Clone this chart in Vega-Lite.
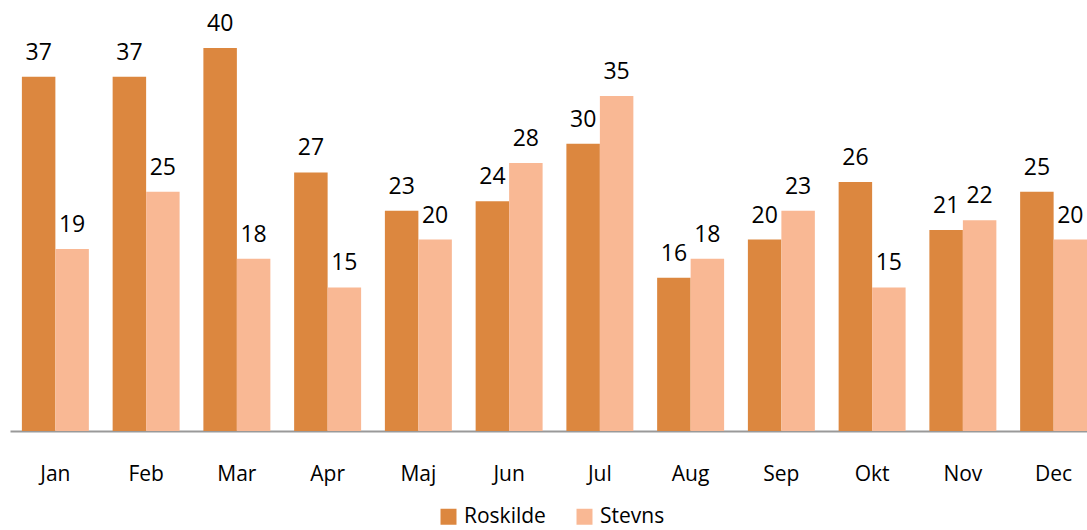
{
  "$schema": "https://vega.github.io/schema/vega-lite/v6.json",
  "autosize": {"type": "none"},
  "width": 1089,
  "height": 383,
  "padding": {"left": 10, "top": 48, "right": 0, "bottom": 99},
  "background": "white",
  "config": {"view": {"stroke": null}, "font": "Open Sans"},
  "data": {
    "values": [
      {"month": "Jan", "series": "Roskilde", "value": 37},
      {"month": "Jan", "series": "Stevns", "value": 19},
      {"month": "Feb", "series": "Roskilde", "value": 37},
      {"month": "Feb", "series": "Stevns", "value": 25},
      {"month": "Mar", "series": "Roskilde", "value": 40},
      {"month": "Mar", "series": "Stevns", "value": 18},
      {"month": "Apr", "series": "Roskilde", "value": 27},
      {"month": "Apr", "series": "Stevns", "value": 15},
      {"month": "Maj", "series": "Roskilde", "value": 23},
      {"month": "Maj", "series": "Stevns", "value": 20},
      {"month": "Jun", "series": "Roskilde", "value": 24},
      {"month": "Jun", "series": "Stevns", "value": 28},
      {"month": "Jul", "series": "Roskilde", "value": 30},
      {"month": "Jul", "series": "Stevns", "value": 35},
      {"month": "Aug", "series": "Roskilde", "value": 16},
      {"month": "Aug", "series": "Stevns", "value": 18},
      {"month": "Sep", "series": "Roskilde", "value": 20},
      {"month": "Sep", "series": "Stevns", "value": 23},
      {"month": "Okt", "series": "Roskilde", "value": 26},
      {"month": "Okt", "series": "Stevns", "value": 15},
      {"month": "Nov", "series": "Roskilde", "value": 21},
      {"month": "Nov", "series": "Stevns", "value": 22},
      {"month": "Dec", "series": "Roskilde", "value": 25},
      {"month": "Dec", "series": "Stevns", "value": 20}
    ]
  },
  "encoding": {
    "x": {
      "field": "month", "type": "nominal", "sort": null,
      "scale": {"paddingInner": 0.262, "paddingOuter": 0.131},
      "axis": {"title": null, "labelAngle": 0, "ticks": false, "domainColor": "#999999", "domainWidth": 2,
               "labelFont": "Open Sans", "labelFontSize": 21, "labelColor": "#000000", "labelPadding": 32}
    },
    "xOffset": {"field": "series", "type": "nominal", "scale": {"paddingInner": 0, "paddingOuter": 0}},
    "y": {
      "field": "value", "type": "quantitative",
      "scale": {"domain": [0, 40], "nice": false},
      "axis": null
    }
  },
  "layer": [
    {
      "mark": {"type": "bar"},
      "encoding": {
        "color": {
          "field": "series", "type": "nominal",
          "scale": {"domain": ["Roskilde", "Stevns"], "range": ["#DC873F", "#F9B894"]},
          "legend": {
            "title": null, "orient": "none", "direction": "horizontal", "columns": 2,
            "legendX": 428, "legendY": 458, "symbolType": "square", "symbolSize": 256,
            "symbolStrokeWidth": 0, "labelFontSize": 21, "labelFont": "Open Sans", "labelColor": "#000000",
            "columnPadding": 28, "symbolOffset": 0, "labelOffset": 5
          }
        }
      }
    },
    {
      "mark": {"type": "text", "dy": -24, "fontSize": 23, "font": "Open Sans", "color": "#000000"},
      "encoding": {"text": {"field": "value", "type": "quantitative"}}
    }
  ]
}
